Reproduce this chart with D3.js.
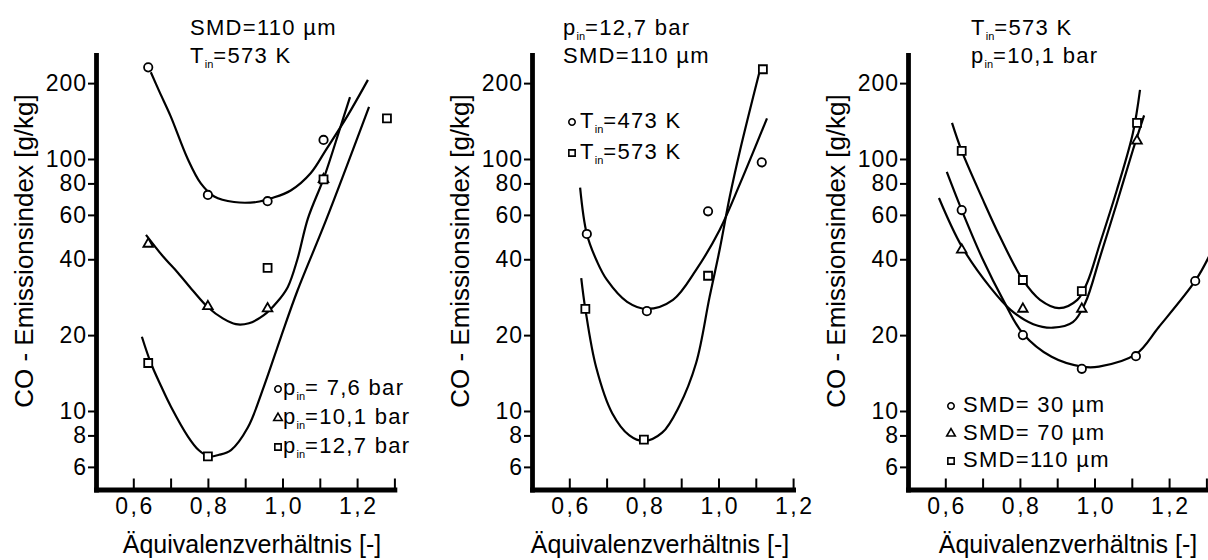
<!DOCTYPE html>
<html>
<head>
<meta charset="utf-8">
<script src="https://cdn.jsdelivr.net/npm/d3@7"></script>
<style>
  body { margin: 0; background: #fff; }
  text { font-family: "Liberation Sans", Arial, Helvetica, sans-serif; fill: #000; }
</style>
</head>
<body>
<script>
const width = 1208;
const height = 560;

// shared axis ticks
const y_ticks = [6, 8, 10, 20, 40, 60, 80, 100, 200];
const x_ticks_long = [0.6, 0.7, 0.8, 0.9, 1.0, 1.1, 1.2, 1.3];
const x_ticks_short = [0.6, 0.7, 0.8, 0.9, 1.0, 1.1, 1.2];
const x_label = "Äquivalenzverhältnis [-]";
const y_label = "CO - Emissionsindex [g/kg]";

// panel 1: SMD=110 µm, T_in=573 K  (text "|in|" = subscript)
const p1_title = ["SMD=110 µm", "T|in|=573 K"];
const p1_legend = ["p|in|= 7,6 bar", "p|in|=10,1 bar", "p|in|=12,7 bar"];
const p1_circles = [[0.64, 231], [0.80, 72], [0.96, 68], [1.11, 119]];
const p1_triangles = [[0.64, 46], [0.80, 26], [0.96, 25.5], [1.11, 83]];
const p1_squares = [[0.64, 15.5], [0.80, 6.6], [0.96, 37], [1.11, 83], [1.28, 145]];
const p1_circle_fit = [[0.647, 221], [0.67, 185], [0.70, 148], [0.746, 100], [0.781, 80], [0.817, 71],
  [0.87, 67.5], [0.93, 67.5], [0.972, 70], [1.022, 75], [1.076, 88], [1.117, 109], [1.175, 149], [1.229, 206]];
const p1_triangle_fit = [[0.634, 50], [0.68, 41], [0.72, 35.3], [0.76, 30], [0.80, 25.8], [0.84, 23.3],
  [0.875, 22.1], [0.91, 22.3], [0.95, 24], [0.985, 27], [1.014, 31], [1.04, 40], [1.068, 58], [1.112, 85],
  [1.154, 132], [1.181, 176]];
const p1_square_fit = [[0.623, 19.7], [0.647, 15.5], [0.675, 12.5], [0.701, 10.4], [0.747, 7.9], [0.775, 7.0],
  [0.803, 6.6], [0.83, 6.7], [0.862, 7.0], [0.907, 8.6], [0.95, 12.5], [0.996, 19.7], [1.04, 30],
  [1.117, 57.3], [1.232, 161]];

// panel 2: p_in=12,7 bar, SMD=110 µm
const p2_title = ["p|in|=12,7 bar", "SMD=110 µm"];
const p2_legend = ["T|in|=473 K", "T|in|=573 K"];
const p2_circles = [[0.647, 50.4], [0.808, 24.9], [0.972, 62], [1.116, 97]];
const p2_squares = [[0.643, 25.4], [0.80, 7.7], [0.972, 34.4], [1.119, 227]];
const p2_circle_fit = [[0.629, 77], [0.647, 50.4], [0.675, 39], [0.701, 33.1], [0.755, 27.1], [0.808, 25.4],
  [0.878, 27.6], [0.94, 36.3], [1.003, 52.3], [1.058, 80], [1.13, 145]];
const p2_square_fit = [[0.632, 33.7], [0.643, 25.4], [0.672, 14.9], [0.715, 9.8], [0.761, 8.0], [0.80, 7.6],
  [0.849, 8.2], [0.894, 10.4], [0.94, 15.5], [0.976, 28.3], [1.003, 43.6], [1.03, 70.6], [1.058, 108.6],
  [1.111, 225]];

// panel 3: T_in=573 K, p_in=10,1 bar
const p3_title = ["T|in|=573 K", "p|in|=10,1 bar"];
const p3_legend = ["SMD= 30 µm", "SMD= 70 µm", "SMD=110 µm"];
const p3_circles = [[0.644, 62.7], [0.808, 20], [0.966, 14.7], [1.111, 16.5], [1.27, 32.8]];
const p3_triangles = [[0.644, 43.6], [0.808, 25.4], [0.966, 25.4], [1.114, 118]];
const p3_squares = [[0.644, 107.6], [0.808, 33.1], [0.966, 29.9], [1.114, 139]];
const p3_circle_fit = [[0.604, 88.8], [0.644, 62.7], [0.701, 39.8], [0.755, 27.6], [0.808, 20.3], [0.885, 16.4],
  [0.966, 15], [1.012, 15], [1.111, 16.8], [1.172, 21.5], [1.27, 32.8], [1.307, 41]];
const p3_triangle_fit = [[0.583, 70], [0.644, 45], [0.72, 31], [0.775, 25.2], [0.836, 22.1], [0.889, 21.4],
  [0.942, 22.5], [0.975, 26.8], [1.015, 40.9], [1.06, 66.9], [1.103, 108.6], [1.133, 149]];
const p3_square_fit = [[0.618, 139], [0.644, 107.6], [0.701, 68.8], [0.747, 49], [0.808, 33.1], [0.854, 27.6],
  [0.905, 25.6], [0.954, 27.6], [0.98, 32.2], [1.015, 46.4], [1.06, 75.3], [1.103, 126.8], [1.122, 188]];

let svg = d3.select("body").append("svg").attr("width", width).attr("height", height);

// log y scale, same for all three panels
let y = d3.scaleLog().domain([4.88, 258.6]).range([489.5, 55]);
const px_per_tenth = 37.3;

let sym = {
  circle: d3.symbolCircle,
  triangle: d3.symbolTriangle,
  square: d3.symbolSquare
};

// text with "|in|" turned into a small subscript
function richText(g, x, yy, str, size) {
  let t = g.append("text").attr("x", x).attr("y", yy).attr("font-size", size)
    .attr("letter-spacing", 1.3).style("white-space", "pre");
  str.split("|").forEach((part, i) => {
    if (i % 2 === 1) {
      t.append("tspan").attr("font-size", 11).attr("dy", 5).attr("letter-spacing", 0).text(part);
    } else {
      t.append("tspan").attr("dy", i > 0 ? -5 : 0).text(part);
    }
  });
  return t;
}

function drawPanel(p) {
  let g = svg.append("g");
  let x = d3.scaleLinear().domain([0.5, p.xmax])
    .range([p.ax, p.ax + (p.xmax - 0.5) * 10 * px_per_tenth]);

  // y axis, ticks outward
  let yAxis = d3.axisLeft(y).tickValues(y_ticks).tickFormat(d3.format("d"))
    .tickSize(8).tickSizeOuter(0).tickPadding(1);
  g.append("g").attr("transform", `translate(${p.ax},0)`).call(yAxis)
    .attr("font-family", null).attr("font-size", 23)
    .call(a => a.select(".domain").attr("stroke-width", 4.8).attr("stroke-linecap", "square"))
    .call(a => a.selectAll(".tick line").attr("stroke-width", 2))
    .call(a => a.selectAll(".tick text").attr("letter-spacing", 1));

  // x axis, ticks pointing up into the plot
  let xAxis = d3.axisBottom(x).tickValues(p.xticks)
    .tickFormat(d => (Math.round(d * 10) % 2 === 0) ? d3.format(".1f")(d).replace(".", ",") : "")
    .tickSize(-11).tickSizeOuter(0).tickPadding(8);
  g.append("g").attr("transform", "translate(0,489.5)").call(xAxis)
    .attr("font-family", null).attr("font-size", 23)
    .call(a => a.select(".domain").attr("stroke-width", 4.8).attr("stroke-linecap", "square"))
    .call(a => a.selectAll(".tick line").attr("stroke-width", 2))
    .call(a => a.selectAll(".tick text").attr("letter-spacing", 2.5).attr("dx", 1.2));

  // axis titles
  g.append("text").attr("transform", `translate(${p.ax - 63},251) rotate(-90)`)
    .attr("text-anchor", "middle").attr("font-size", 26).text(y_label);
  g.append("text").attr("x", p.xlabel_x).attr("y", 553)
    .attr("text-anchor", "middle").attr("font-size", 25).text(x_label);

  // fitted curves
  let line = d3.line().x(d => x(d[0])).y(d => y(d[1])).curve(d3.curveCatmullRom.alpha(0.5));
  p.fits.forEach(f => {
    g.append("path").attr("d", line(f)).attr("fill", "none")
      .attr("stroke", "#000").attr("stroke-width", 2.2);
  });

  // measured points
  p.series.forEach(s => {
    g.selectAll(null).data(s.data).enter().append("path")
      .attr("d", d3.symbol().type(sym[s.shape]).size(s.shape === "triangle" ? 40 : (s.shape === "square" ? 64 : 55)))
      .attr("transform", d => `translate(${x(d[0])},${y(d[1])})`)
      .attr("fill", "#fff").attr("stroke", "#000").attr("stroke-width", 1.8);
  });

  // panel title
  p.title.forEach((t, i) => richText(g, p.title_x, 35 + i * 28, t, 22));

  // legend
  p.legend.forEach((t, i) => {
    let ly = p.legend_y + i * p.legend_step;
    g.append("path")
      .attr("d", d3.symbol().type(sym[p.series[i].shape]).size(p.series[i].shape === "square" ? 40 : 32))
      .attr("transform", `translate(${p.legend_x},${ly - 6})`)
      .attr("fill", "#fff").attr("stroke", "#000").attr("stroke-width", 1.6);
    richText(g, p.legend_x + p.legend_gap, ly, t, 22);
  });
}

drawPanel({
  ax: 96, xmax: 1.3, xticks: x_ticks_long, xlabel_x: 252,
  title: p1_title, title_x: 190,
  legend: p1_legend, legend_x: 278, legend_y: 395, legend_step: 29, legend_gap: 5,
  fits: [p1_circle_fit, p1_triangle_fit, p1_square_fit],
  series: [
    {shape: "circle", data: p1_circles},
    {shape: "triangle", data: p1_triangles},
    {shape: "square", data: p1_squares}
  ]
});

drawPanel({
  ax: 532, xmax: 1.2, xticks: x_ticks_short, xlabel_x: 660,
  title: p2_title, title_x: 563,
  legend: p2_legend, legend_x: 572, legend_y: 128, legend_step: 31, legend_gap: 8,
  fits: [p2_circle_fit, p2_square_fit],
  series: [
    {shape: "circle", data: p2_circles},
    {shape: "square", data: p2_squares}
  ]
});

drawPanel({
  ax: 908, xmax: 1.3, xticks: x_ticks_long, xlabel_x: 1068,
  title: p3_title, title_x: 971,
  legend: p3_legend, legend_x: 951, legend_y: 412, legend_step: 27.5, legend_gap: 12,
  fits: [p3_circle_fit, p3_triangle_fit, p3_square_fit],
  series: [
    {shape: "circle", data: p3_circles},
    {shape: "triangle", data: p3_triangles},
    {shape: "square", data: p3_squares}
  ]
});
</script>
</body>
</html>
